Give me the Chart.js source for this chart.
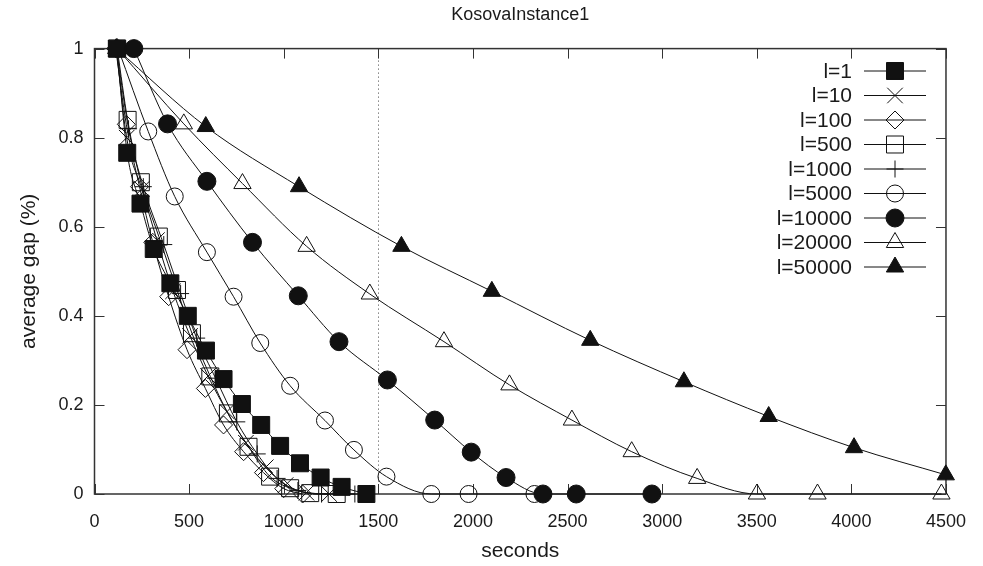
<!DOCTYPE html>
<html>
<head>
<meta charset="utf-8">
<script src="https://cdn.jsdelivr.net/npm/chart.js@4/dist/chart.umd.min.js"></script>
<style>
  html, body { margin: 0; padding: 0; background: #fff; }
  canvas { display: block; }
</style>
</head>
<body>
<canvas id="myChart" width="983" height="566"></canvas>
<script>
// time (seconds) and average gap for each l value
var times1 = [118, 173, 243, 313, 401, 493, 589, 682, 779, 881, 981, 1086, 1195, 1306, 1437];
var gap1 = [1, 0.766, 0.652, 0.55, 0.473, 0.4, 0.322, 0.258, 0.202, 0.155, 0.108, 0.069, 0.037, 0.016, 0];

var times10 = [115, 170, 250, 330, 415, 505, 600, 700, 800, 905, 1010, 1120, 1240];
var gap10 = [1, 0.80, 0.685, 0.57, 0.455, 0.355, 0.265, 0.185, 0.115, 0.06, 0.02, 0.003, 0];

var times100 = [112, 168, 238, 308, 392, 489, 586, 682, 788, 893, 1000, 1100];
var gap100 = [1, 0.83, 0.69, 0.565, 0.443, 0.324, 0.237, 0.155, 0.095, 0.048, 0.012, 0];

var times500 = [120, 175, 245, 340, 436, 515, 612, 705, 814, 928, 1034, 1140, 1280];
var gap500 = [1, 0.84, 0.70, 0.578, 0.458, 0.361, 0.264, 0.181, 0.106, 0.039, 0.013, 0.002, 0];

var times1000 = [116, 180, 258, 366, 455, 540, 640, 752, 860, 965, 1075, 1200, 1376];
var gap1000 = [1, 0.82, 0.69, 0.56, 0.45, 0.35, 0.26, 0.162, 0.09, 0.035, 0.008, 0, 0];

var times5000 = [125, 284, 424, 594, 735, 876, 1034, 1218, 1371, 1543, 1780, 1977, 2325];
var gap5000 = [1, 0.814, 0.668, 0.543, 0.443, 0.339, 0.243, 0.165, 0.099, 0.039, 0, 0, 0];

var times10000 = [208, 386, 594, 835, 1077, 1292, 1548, 1798, 1991, 2175, 2370, 2546, 2946];
var gap10000 = [1, 0.831, 0.702, 0.565, 0.445, 0.342, 0.256, 0.166, 0.094, 0.037, 0, 0, 0];

var times20000 = [120, 472, 782, 1121, 1455, 1847, 2193, 2523, 2839, 3185, 3501, 3821, 4476];
var gap20000 = [1, 0.831, 0.697, 0.556, 0.449, 0.342, 0.245, 0.166, 0.095, 0.035, 0, 0, 0];

var times50000 = [115, 588, 1081, 1622, 2100, 2620, 3115, 3563, 4014, 4499];
var gap50000 = [1, 0.825, 0.69, 0.556, 0.455, 0.345, 0.252, 0.174, 0.104, 0.043];

var xTicks = [0, 500, 1000, 1500, 2000, 2500, 3000, 3500, 4000, 4500];
var yTicks = [0, 0.2, 0.4, 0.6, 0.8, 1];
var markLine = 1500;

var FONT = "'Liberation Sans', Arial, sans-serif";
var INK = '#111';
var NONE = 'rgba(0,0,0,0)';

function pts(xs, ys) {
  return xs.map(function (x, i) { return { x: x, y: ys[i] }; });
}

function series(label, xs, ys, style, radius, filled) {
  return {
    label: label,
    data: pts(xs, ys),
    borderColor: INK,
    borderWidth: 1,
    pointStyle: style,
    pointRadius: radius,
    pointBorderWidth: 1,
    pointBorderColor: INK,
    pointBackgroundColor: filled ? INK : NONE,
    cubicInterpolationMode: 'monotone',
    clip: false
  };
}

var datasets = [
  series('l=1', times1, gap1, 'rect', 12, true),
  series('l=10', times10, gap10, 'crossRot', 11, false),
  series('l=100', times100, gap100, 'rectRot', 9, false),
  series('l=500', times500, gap500, 'rect', 12, false),
  series('l=1000', times1000, gap1000, 'cross', 8.5, false),
  series('l=5000', times5000, gap5000, 'circle', 8.5, false),
  series('l=10000', times10000, gap10000, 'circle', 9, true),
  series('l=20000', times20000, gap20000, 'triangle', 10, false),
  series('l=50000', times50000, gap50000, 'triangle', 10, true)
];

// frame with inward ticks on all four sides, plus dotted marker line
var framePlugin = {
  id: 'frame',
  beforeDatasetsDraw: function (chart) {
    var ctx = chart.ctx, a = chart.chartArea;
    var xs = chart.scales.x, ys = chart.scales.y;
    ctx.save();
    ctx.strokeStyle = '#444';
    ctx.lineWidth = 1;
    ctx.setLineDash([1, 3]);
    var mx = Math.round(xs.getPixelForValue(markLine)) + 0.5;
    ctx.beginPath();
    ctx.moveTo(mx, a.top);
    ctx.lineTo(mx, a.bottom);
    ctx.stroke();
    ctx.setLineDash([]);

    ctx.strokeStyle = '#333';
    ctx.lineWidth = 1.5;
    ctx.strokeRect(a.left, a.top, a.right - a.left, a.bottom - a.top);
    ctx.lineWidth = 1;
    ctx.beginPath();
    xTicks.forEach(function (v) {
      var px = Math.round(xs.getPixelForValue(v)) + 0.5;
      ctx.moveTo(px, a.bottom); ctx.lineTo(px, a.bottom - 10);
      ctx.moveTo(px, a.top); ctx.lineTo(px, a.top + 10);
    });
    yTicks.forEach(function (v) {
      var py = Math.round(ys.getPixelForValue(v)) + 0.5;
      ctx.moveTo(a.left, py); ctx.lineTo(a.left + 10, py);
      ctx.moveTo(a.right, py); ctx.lineTo(a.right - 10, py);
    });
    ctx.stroke();
    ctx.restore();
  }
};

// gnuplot style key: text, then a line sample with the marker in its middle
var keyPlugin = {
  id: 'key',
  afterDatasetsDraw: function (chart) {
    var ctx = chart.ctx;
    var textRight = 852, lineL = 864, lineR = 926, y0 = 71, step = 24.5;
    ctx.save();
    ctx.font = '21px ' + FONT;
    ctx.textAlign = 'right';
    ctx.textBaseline = 'middle';
    chart.data.datasets.forEach(function (ds, i) {
      var y = y0 + i * step;
      ctx.fillStyle = '#1a1a1a';
      ctx.fillText(ds.label, textRight, y + 1);
      ctx.strokeStyle = INK;
      ctx.lineWidth = 1;
      ctx.beginPath();
      ctx.moveTo(lineL, y); ctx.lineTo(lineR, y);
      ctx.stroke();
      ctx.fillStyle = ds.pointBackgroundColor;
      ctx.strokeStyle = ds.pointBorderColor;
      Chart.helpers.drawPoint(ctx, {
        pointStyle: ds.pointStyle, radius: ds.pointRadius,
        rotation: 0, borderWidth: 1
      }, (lineL + lineR) / 2, y);
    });
    ctx.restore();
  }
};

new Chart(document.getElementById('myChart'), {
  type: 'line',
  data: { datasets: datasets },
  options: {
    responsive: false,
    animation: false,
    layout: { padding: { left: 0, right: 33, top: 0, bottom: 0 } },
    plugins: {
      legend: { display: false },
      tooltip: { enabled: false },
      title: {
        display: true,
        text: 'KosovaInstance1',
        fullSize: false,
        color: '#1a1a1a',
        font: { family: FONT, size: 18, weight: 'normal' },
        padding: { top: 4, bottom: 23 }
      }
    },
    scales: {
      x: {
        type: 'linear',
        min: 0, max: 4500,
        afterFit: function (s) { s.height = 72; },
        grid: { display: false, drawTicks: false },
        border: { display: false },
        ticks: {
          stepSize: 500, padding: 17, color: '#1a1a1a',
          font: { family: FONT, size: 18 },
          callback: function (v) { return String(v); }
        },
        title: {
          display: true, text: 'seconds', color: '#1a1a1a',
          font: { family: FONT, size: 21 },
          padding: { top: 0, bottom: 2 }
        }
      },
      y: {
        min: 0, max: 1,
        afterFit: function (s) { s.width = 94.5; },
        grid: { display: false, drawTicks: false },
        border: { display: false },
        ticks: {
          stepSize: 0.2, padding: 11, color: '#1a1a1a',
          font: { family: FONT, size: 18 },
          callback: function (v) { return String(Math.round(v * 10) / 10); }
        },
        title: {
          display: true, text: 'average gap (%)', color: '#1a1a1a',
          font: { family: FONT, size: 21 },
          padding: { top: 17, bottom: 0 }
        }
      }
    }
  },
  plugins: [framePlugin, keyPlugin]
});
</script>
</body>
</html>
